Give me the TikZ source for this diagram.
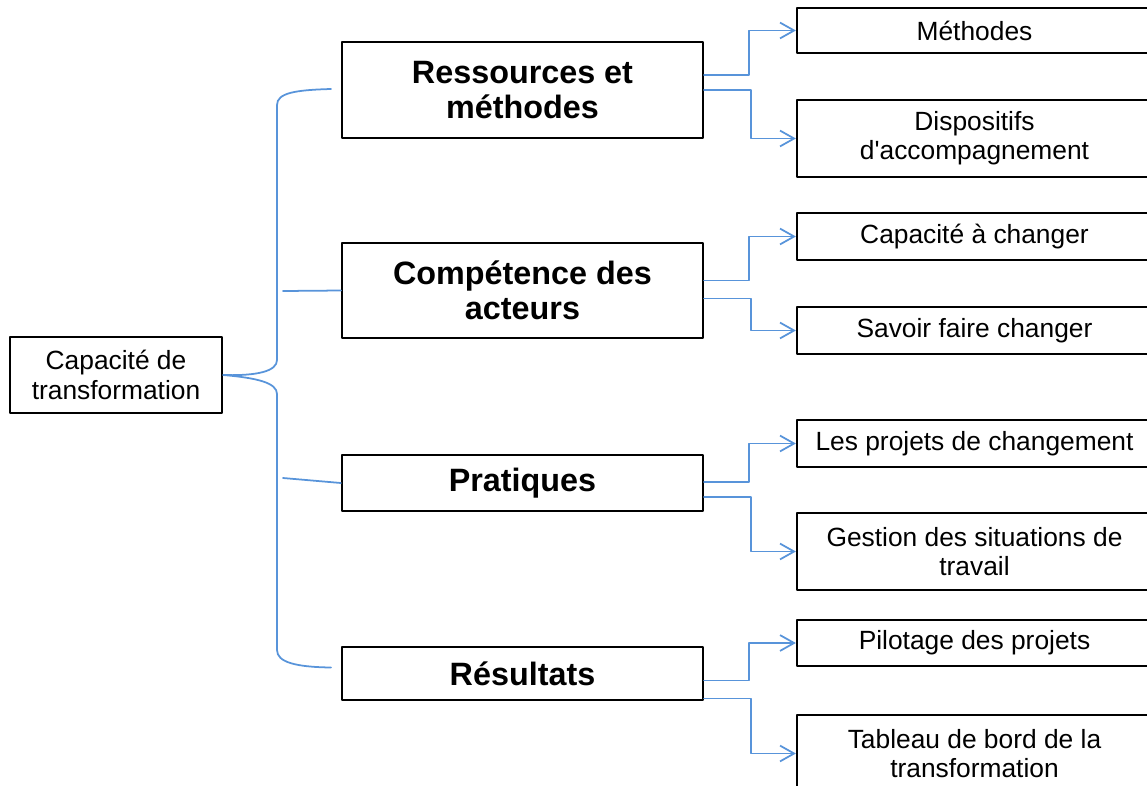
\documentclass[tikz,border=0pt]{standalone}
\usepackage{fontspec}
\setmainfont{Liberation Sans}
\usetikzlibrary{arrows.meta,calc}
\definecolor{lienbleu}{RGB}{88,148,218}
\begin{document}
\begin{tikzpicture}[x=0.02cm,y=-0.02cm,line cap=round,line join=round,
  boite/.style={draw=black,line width=1.3pt,align=center,inner sep=0pt},
  gros/.style={boite,minimum width=7.22cm,font=\fontsize{18.4}{20}\selectfont\bfseries},
  petit/.style={boite,minimum width=7.1cm,font=\fontsize{15}{16.6}\selectfont},
  lien/.style={draw=lienbleu,line width=1pt},
  fleche/.style={lien,-{Straight Barb[length=8pt,width=9pt]}}]
\useasboundingbox (0,0) rectangle (1147,785);
\node[boite,minimum width=4.24cm,minimum height=1.52cm,font=\fontsize{15}{16.6}\selectfont] (capa) at (116,375) {Capacité de\\transformation};
\node[gros,minimum height=1.92cm] (res) at (522.5,90) {Ressources et\\méthodes};
\node[gros,minimum height=1.9cm] (comp) at (522.5,290.5) {Compétence des\\acteurs};
\node[gros,minimum height=1.12cm] (prat) at (522.5,483) {Pratiques};
\node[gros,minimum height=1.06cm] (resu) at (522.5,673.5) {Résultats};
\node[petit,minimum height=0.9cm] (meth) at (974.5,30.5) {Méthodes};
\node[petit,minimum height=1.54cm] (disp) at (974.5,138.5) {Dispositifs\\d\textquotesingle accompagnement};
\node[petit,minimum height=0.94cm] (chg) at (974.5,236.5) {Capacité à changer};
\node[petit,minimum height=0.94cm] (sav) at (974.5,330.5) {Savoir faire changer};
\node[petit,minimum height=0.94cm] (proj) at (974.5,443.5) {Les projets de changement};
\node[petit,minimum height=1.54cm] (gest) at (974.5,551.5) {Gestion des situations de\\travail};
\node[petit,minimum height=0.92cm] (pil) at (974.5,643) {Pilotage des projets};
\node[petit,minimum height=1.54cm] (tab) at (974.5,753.5) {Tableau de bord de la\\transformation};
% accolade
\draw[lien] ($(res.west)+(-10,-1)$) .. controls (295,90) and (277,93) .. (277,105) -- (277,360)
  .. controls (277,371) and (258,376) .. (capa.east)
  .. controls (258,378) and (277,383) .. (277,394) -- (277,650)
  .. controls (277,662) and (295,667) .. ($(resu.west)+(-10,-6)$);
\draw[lien] (283,291) -- (comp.west);
\draw[lien] (283,478) -- (prat.west);
\foreach \src/\haut/\bas/\dh/\db in {res/meth/disp/-15/0,comp/chg/sav/-10/8,prat/proj/gest/-1/14,resu/pil/tab/7/25}{
  \draw[fleche] ($(\src.east)+(0,\dh)$) -- ++(45,0) |- (\haut.west);
  \draw[fleche] ($(\src.east)+(0,\db)$) -- ++(47,0) |- (\bas.west);
}
\end{tikzpicture}
\end{document}
